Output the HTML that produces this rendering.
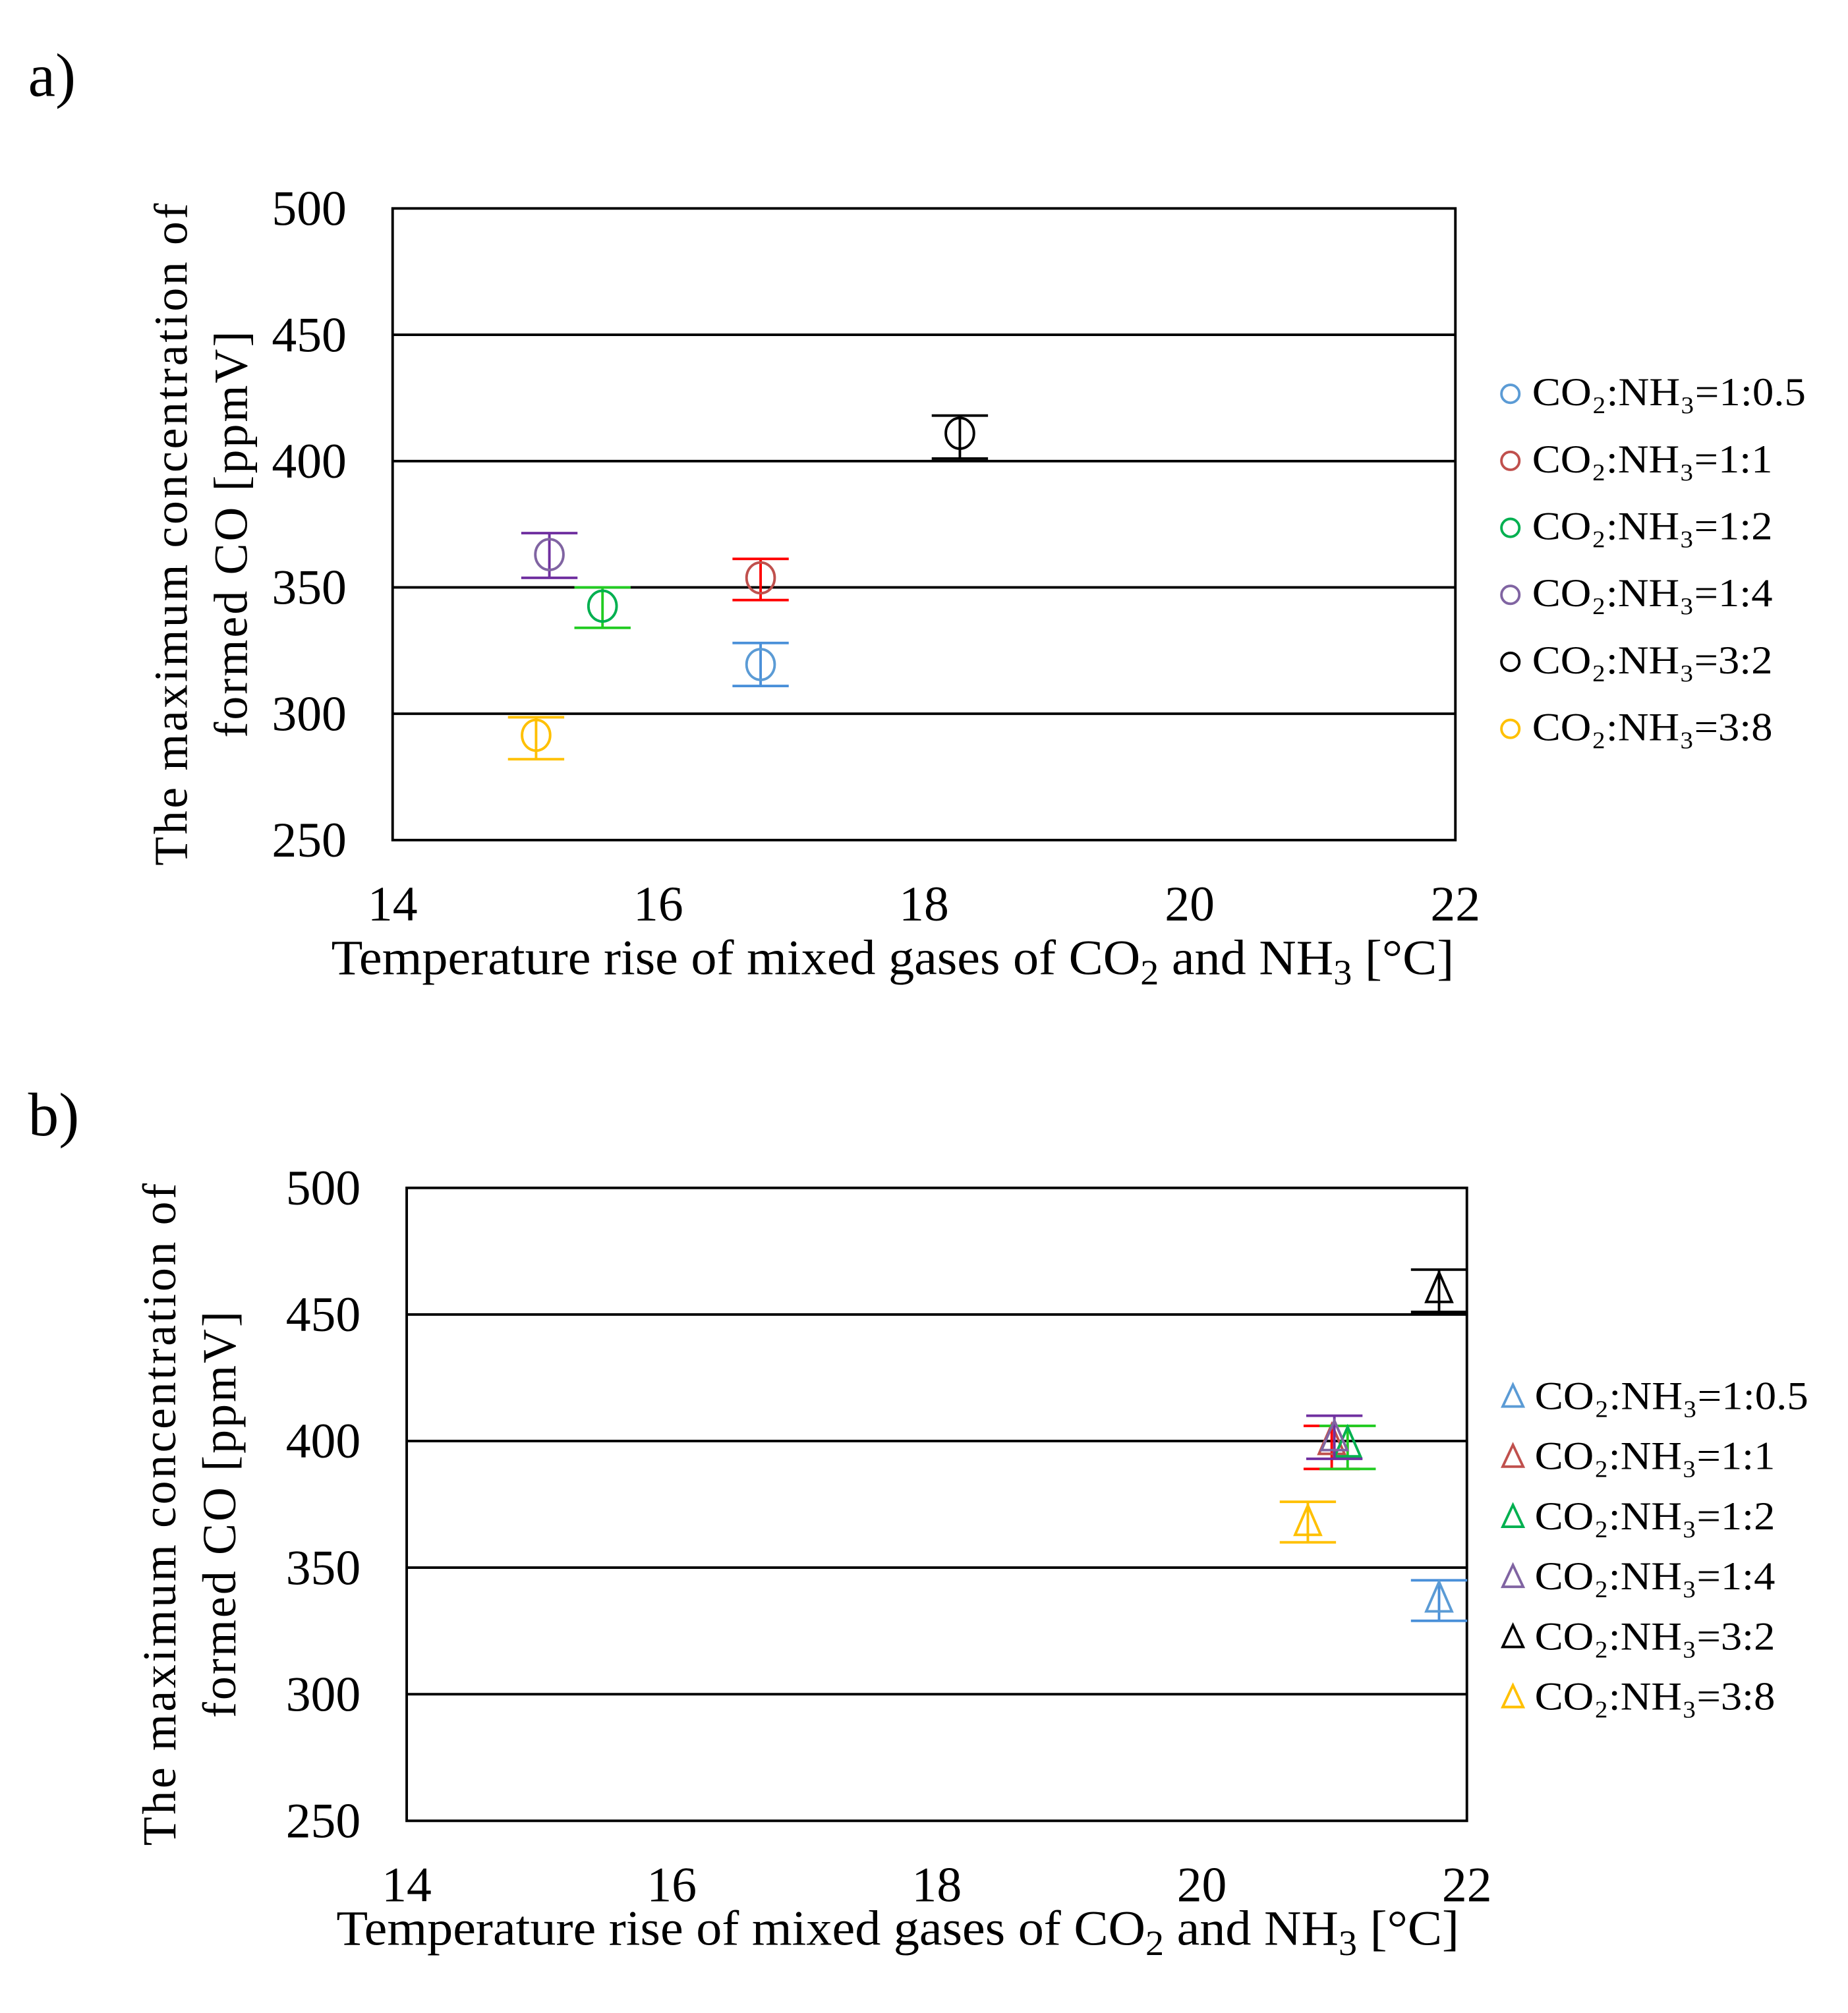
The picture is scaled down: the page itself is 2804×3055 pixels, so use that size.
<!DOCTYPE html>
<html><head><meta charset="utf-8"><style>
html,body{margin:0;padding:0;background:#fff}
svg{display:block}
text{font-family:"Liberation Serif",serif;fill:#000}
</style></head><body>
<svg id="fig" xmlns="http://www.w3.org/2000/svg" width="2804" height="3055" viewBox="0 0 1445 1574.3" preserveAspectRatio="none">
<rect width="1445" height="1575" fill="#fff"/>
<text x="22" y="75" font-size="48">a)</text>
<text x="22" y="888" font-size="48">b)</text>
</svg>
<script>
const labels = ["CO\u2082:NH\u2083=1:0.5","CO\u2082:NH\u2083=1:1","CO\u2082:NH\u2083=1:2","CO\u2082:NH\u2083=1:4","CO\u2082:NH\u2083=3:2","CO\u2082:NH\u2083=3:8"];
const xTicks = [14,16,18,20,22];
const yTicks = [250,300,350,400,450,500];
const aX = [16.77,16.77,15.58,15.18,18.27,15.08];
const aY = [319.5,353.8,342.6,363,411,291.5];
const aLo = [311,345,334,353.8,401,282];
const aHi = [328,361.3,350,371.5,418,298.6];
const bX = [21.79,20.98,21.1,21.0,21.79,20.8];
const bY = [337.8,400,399,401.5,460,368];
const bLo = [329,389,389,393,451,360];
const bHi = [345,406,406,410,467.7,376];
const markerColors = ["#5b9bd5","#c0504d","#00b050","#8064a2","#000000","#ffc000"];
const barColors = ["#4a90d9","#ff0000","#22cc22","#7030a0","#000000","#ffc000"];
const NS="http://www.w3.org/2000/svg";
const svg=document.getElementById('fig');
function mk(tag,attrs,parent){const e=document.createElementNS(NS,tag);for(const k in attrs)e.setAttribute(k,attrs[k]);(parent||svg).appendChild(e);return e;}

function panel(p){
  const g=mk('g',{});
  
  
  const sx=v=>p.L+(v-14)/8*(p.R-p.L);
  const sy=v=>p.B-(v-250)/250*(p.B-p.T);
  yTicks.forEach(t=>{
    if(t>250&&t<500){const l=mk('line',{x1:p.L,x2:p.R,y1:sy(t),y2:sy(t),stroke:'#000','stroke-width':2},g);
    
    }
    const tx=mk('text',{x:p.L-36,y:sy(t)+13,'font-size':39,'text-anchor':'end'},g);
    tx.textContent=t;
    
    
  });
  const fr=mk('rect',{x:p.L,y:p.T,width:p.R-p.L,height:p.B-p.T,fill:'none',stroke:'#000','stroke-width':2},g);
  
  
  xTicks.forEach(t=>{
    const tx=mk('text',{x:sx(t),y:p.xtY,'font-size':39,'text-anchor':'middle'},g);
    tx.textContent=t;
    
    
  });
  const xl=mk('text',{x:p.xlX,y:p.xlY,'font-size':39,textLength:878,lengthAdjust:'spacingAndGlyphs'},g);
  xl.innerHTML='Temperature rise of mixed gases of CO<tspan font-size="28" dy="8">2</tspan><tspan dy="-8"> and NH</tspan><tspan font-size="28" dy="8">3</tspan><tspan dy="-8"> [°C]</tspan>';
  
  
  const cy=(p.T+p.B)/2+8;
  const y1=mk('text',{x:0,y:0,'font-size':37,'text-anchor':'middle',textLength:518,lengthAdjust:'spacing',transform:`translate(${p.ylX},${cy}) rotate(-90)`},g);
  y1.textContent='The maximum concentration of';
  
  
  const y2=mk('text',{x:0,y:0,'font-size':37,'text-anchor':'middle',textLength:318,lengthAdjust:'spacing',transform:`translate(${p.ylX+47},${cy}) rotate(-90)`},g);
  y2.textContent='formed CO [ppmV]';
  
  
  for(let i=0;i<labels.length;i++){
    const x=sx(p.X[i]),y=sy(p.Y[i]),lo=sy(p.Lo[i]),hi=sy(p.Hi[i]);
    const eg=mk('g',{stroke:barColors[i],'stroke-width':2,fill:'none'},g);
    
    
    mk('line',{x1:x,x2:x,y1:lo,y2:hi},eg);
    mk('line',{x1:x-22,x2:x+22,y1:lo,y2:lo},eg);
    mk('line',{x1:x-22,x2:x+22,y1:hi,y2:hi},eg);
    let m;
    if(p.shape==='circle') m=mk('ellipse',{cx:x,cy:y,rx:11,ry:12,fill:'none',stroke:markerColors[i],'stroke-width':2},g);
    else m=mk('polygon',{points:`${x},${y-13} ${x-10},${y+10} ${x+10},${y+10}`,fill:'none',stroke:markerColors[i],'stroke-width':2},g);
    
    
    const ly=p.legY+i*p.legDy;
    let lm;
    if(p.shape==='circle') lm=mk('circle',{cx:p.legX,cy:ly-9,r:7,fill:'none',stroke:markerColors[i],'stroke-width':2},g);
    else lm=mk('polygon',{points:`${p.legX},${ly-19} ${p.legX-8},${ly-2} ${p.legX+8},${ly-2}`,fill:'none',stroke:markerColors[i],'stroke-width':2},g);
    
    
    const lt=mk('text',{x:p.legX+17,y:ly,'font-size':31,textLength:p.legW[i],lengthAdjust:'spacingAndGlyphs'},g);
    lt.textContent=labels[i];
    
    
  }
}
const legWidths=[214,188,188,188,188,188];
panel({name:'chart-a',L:307,R:1138,T:163,B:657,X:aX,Y:aY,Lo:aLo,Hi:aHi,shape:'circle',xtY:720,xlX:259,xlY:762,ylX:146,legX:1181,legY:317,legDy:52.4,legW:legWidths});
panel({name:'chart-b',L:318,R:1147,T:929,B:1424,X:bX,Y:bY,Lo:bLo,Hi:bHi,shape:'tri',xtY:1487,xlX:263,xlY:1521,ylX:137,legX:1183,legY:1102,legDy:47,legW:legWidths});
</script>
</body></html>
